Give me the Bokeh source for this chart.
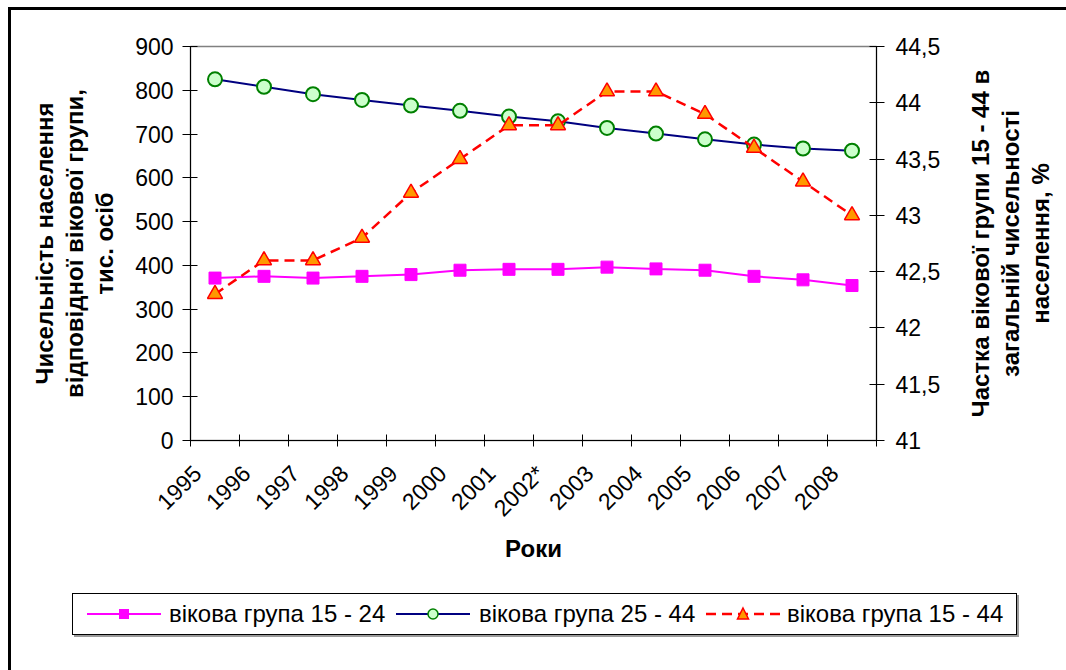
import math
from bokeh.plotting import figure
from bokeh.layouts import column
from bokeh.models import (Range1d, LinearAxis, FixedTicker, CustomJSTickFormatter,
                          Label, Div)
from bokeh.embed import file_html
from bokeh.resources import INLINE

# ---- data ----
years = ["1995", "1996", "1997", "1998", "1999", "2000", "2001", "2002*",
         "2003", "2004", "2005", "2006", "2007", "2008"]
group_15_24 = [371, 375, 371, 375, 379, 389, 391, 391, 396, 392, 389, 375, 367, 354]
group_25_44 = [825, 808, 791, 778, 765, 753, 740, 729, 714, 701, 688, 676, 667, 662]
share_15_44 = [42.3, 42.6, 42.6, 42.8, 43.2, 43.5, 43.8, 43.8, 44.1, 44.1, 43.9, 43.6, 43.3, 43.0]
left_ticks = [0, 100, 200, 300, 400, 500, 600, 700, 800, 900]
right_ticks = [41, 41.5, 42, 42.5, 43, 43.5, 44, 44.5]

label_15_24 = "вікова група 15 - 24"
label_25_44 = "вікова група 25 - 44"
label_15_44 = "вікова група 15 - 44"
left_title = "Чисельність населення\nвідповідної вікової групи,\nтис. осіб"
right_title = "Частка вікової групи 15 - 44 в\nзагальній чисельності\nнаселення, %"
x_title = "Роки"

FONT = "Liberation Sans"
xs = list(range(len(years)))
label_shift = 0.36  # labels sit slightly left of the category centre (as in Excel)

# series styles
st1 = dict(line=dict(line_color="#FF00FF", line_width=2),
           mark=dict(marker="square", size=12, fill_color="#FF00FF", line_color="#FF00FF"))
st2 = dict(line=dict(line_color="#000080", line_width=2),
           mark=dict(marker="circle", size=14, fill_color="#CCFFCC", line_color="#008000",
                     line_width=2))
st3 = dict(line=dict(line_color="#FF0000", line_width=2.5, line_dash="10 6"),
           mark=dict(marker="triangle", size=15, fill_color="#FF9900", line_color="#FF0000",
                     line_width=1.5))

p = figure(output_backend="svg", toolbar_location=None,
           frame_width=686, frame_height=394,
           x_range=Range1d(-0.5, len(years) - 0.5),
           y_range=Range1d(left_ticks[0], left_ticks[-1]),
           min_border_left=179, min_border_right=190, min_border_top=36,
           min_border_bottom=140)
p.extra_y_ranges = {"share": Range1d(right_ticks[0], right_ticks[-1])}

p.grid.visible = False
p.outline_line_color = "#808080"
p.outline_line_width = 1.5
p.background_fill_color = "white"
p.border_fill_color = "white"

# x axis
xa = p.xaxis[0]
tick_pos = [i - label_shift for i in xs]
xa.ticker = FixedTicker(ticks=tick_pos, minor_ticks=[i - 0.5 for i in range(len(years) + 1)])
xa.major_label_overrides = {t: y for t, y in zip(tick_pos, years)}
xa.major_tick_in = 0
xa.major_tick_out = 0
xa.minor_tick_in = 6
xa.minor_tick_out = 6
xa.minor_tick_line_color = "black"
xa.axis_line_color = "black"
xa.major_label_orientation = math.pi / 4
xa.major_label_text_font = FONT
xa.major_label_text_font_size = "23px"
xa.major_label_text_color = "black"
xa.major_label_standoff = 23
xa.axis_label = x_title
xa.axis_label_text_font = FONT
xa.axis_label_text_font_size = "24px"
xa.axis_label_text_font_style = "bold"
xa.axis_label_text_color = "black"
xa.axis_label_standoff = 2

# left axis
ya = p.yaxis[0]
ya.ticker = FixedTicker(ticks=left_ticks)
ya.major_tick_in = 7
ya.major_tick_out = 8
ya.minor_tick_line_color = None
ya.axis_line_color = "black"
ya.major_label_text_font = FONT
ya.major_label_text_font_size = "23px"
ya.major_label_text_color = "black"
ya.major_label_standoff = 9
ya.axis_label = left_title
ya.axis_label_text_font = FONT
ya.axis_label_text_font_size = "24px"
ya.axis_label_text_font_style = "bold"
ya.axis_label_text_color = "black"
ya.axis_label_text_line_height = 1.12
ya.axis_label_standoff = 14

# right axis
ra = LinearAxis(y_range_name="share")
ra.ticker = FixedTicker(ticks=right_ticks)
ra.formatter = CustomJSTickFormatter(code="return String(tick).replace('.', ',');")
ra.major_tick_in = 7
ra.major_tick_out = 8
ra.minor_tick_line_color = None
ra.axis_line_color = "black"
ra.major_label_text_font = FONT
ra.major_label_text_font_size = "23px"
ra.major_label_text_color = "black"
ra.major_label_standoff = 11
p.add_layout(ra, "right")

# right axis title (reads bottom-to-top, lines centred)
rt = Label(x=67, y=197, x_units="screen", y_units="screen", text=right_title,
           angle=math.pi / 2, text_align="center", text_baseline="middle",
           text_font=FONT, text_font_size="24px", text_font_style="bold",
           text_color="black", text_line_height=1.1)
p.add_layout(rt, "right")

# series
p.line(xs, group_15_24, **st1["line"])
p.scatter(xs, group_15_24, **st1["mark"])
p.line(xs, group_25_44, **st2["line"])
p.scatter(xs, group_25_44, **st2["mark"])
p.line(xs, share_15_44, y_range_name="share", **st3["line"])
p.scatter(xs, share_15_44, y_range_name="share", **st3["mark"])


# ---- legend strip below the chart (symbols built from the same series styles) ----
def legend_symbol(st):
    ln, mk = st["line"], st["mark"]
    dash = f' stroke-dasharray="{ln["line_dash"]}"' if "line_dash" in ln else ""
    parts = [f'<line x1="0" y1="20" x2="74" y2="20" stroke="{ln["line_color"]}" '
             f'stroke-width="{ln["line_width"]}"{dash}/>']
    sw = mk.get("line_width", 1)
    if mk["marker"] == "square":
        parts.append(f'<rect x="32.5" y="15.5" width="9" height="9" fill="{mk["fill_color"]}" '
                     f'stroke="{mk["line_color"]}" stroke-width="{sw}"/>')
    elif mk["marker"] == "circle":
        parts.append(f'<circle cx="37" cy="20" r="5" fill="{mk["fill_color"]}" '
                     f'stroke="{mk["line_color"]}" stroke-width="1.5"/>')
    else:
        parts.append(f'<polygon points="37,14 42.5,25 31.5,25" fill="{mk["fill_color"]}" '
                     f'stroke="{mk["line_color"]}" stroke-width="{sw}"/>')
    return "".join(parts)


entries = [(label_15_24, st1, 14, 96), (label_25_44, st2, 323, 406),
           (label_15_44, st3, 633, 714)]
inner = []
for lab, st, gx, tx in entries:
    inner.append(f'<svg width="74" height="40" style="position:absolute;left:{gx}px;top:0;">'
                 f'{legend_symbol(st)}</svg>')
    inner.append(f'<span style="position:absolute;left:{tx}px;top:0;line-height:40px;'
                 f'white-space:nowrap;">{lab}</span>')
legend_html = (
    '<div style="position:relative;width:1055px;height:85px;">'
    f'<div style="position:absolute;left:56px;top:8px;width:945px;height:42px;'
    f'box-sizing:border-box;border:1px solid #000;box-shadow:2px 2px 0 #9a9a9a;'
    f'background:#fff;font-family:\'{FONT}\';font-size:24px;color:#000;">'
    + "".join(inner) + '</div></div>')

legend_div = Div(text=legend_html, width=1055, height=85)

layout = column(p, legend_div, spacing=0)
layout.styles = {"margin-left": "8px", "margin-top": "7px",
                 "border-left": "3px solid black", "border-top": "3px solid black"}

open("out.html", "w").write(file_html(layout, INLINE))
